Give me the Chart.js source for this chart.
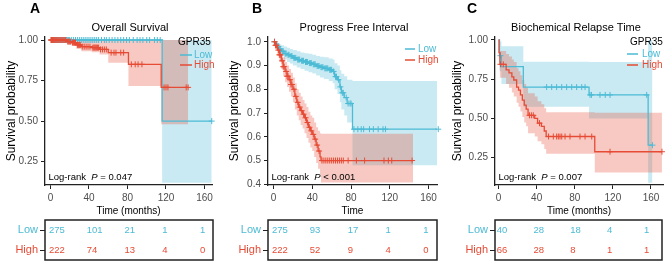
<!DOCTYPE html>
<html><head><meta charset="utf-8">
<script src="https://cdn.jsdelivr.net/npm/chart.js@4.4.0/dist/chart.umd.min.js"></script>
<style>
html,body{margin:0;padding:0;background:#fff;}
#wrap{position:relative;width:669px;height:265px;overflow:hidden;background:#fff;}
#wrap canvas{position:absolute;}
</style></head><body><div id="wrap"></div>
<script>
// ---------- shared ----------
const xTickValues = [0, 40, 80, 120, 160];
const groupNames = ['Low', 'High'];

// ---------- Panel A : Overall Survival ----------
const aLowTime  = [0, 116, 167.5];
const aLowSurv  = [1, 0.5, 0.5];
const aLowUpper = [1, 1, 1];
const aLowLower = [1, 0.12, 0.12];
const aHighTime  = [0, 17, 22, 27, 32, 43, 51, 60, 81, 115, 143];
const aHighSurv  = [1, 0.99, 0.984, 0.97, 0.959, 0.953, 0.942, 0.922, 0.85, 0.708, 0.708];
const aHighUpper = [1, 1, 1, 1, 1, 1, 1, 1, 1, 1, 1];
const aHighLower = [1, 0.975, 0.965, 0.945, 0.93, 0.925, 0.91, 0.86, 0.716, 0.48, 0.48];
const aLowCensor = [1,2,3,4,5,6,7,8,9,10,11,12,13,14,15,16,17,18,19,20,22,24,26,28,30,32,34,36,38,40,42,44,46,48,50,53,56,58,61,64,67,70,73,76,79,82,86,90,93,96,100,103,108,111,114,167.5];
const aHighCensor = [0.5,1,1.5,2,3,4,5,6,7,8,9,10,11,12,13,14,15,16,18,19,20,21,23,24,25,26,28,29,30,31,33,35,37,39,41,44,45,46,47,48,49,50,52,54,56,58,63,66,68,73,76,84,88,91,95,118,120,122,141,143];
const aRiskLow  = [275, 101, 21, 1, 1];
const aRiskHigh = [222, 74, 13, 4, 0];
const aYTicks = [0.25, 0.5, 0.75, 1.0];

// ---------- Panel B : Progress Free Interval ----------
const bLowTime  = [0, 2, 4, 6, 8, 11, 14, 17, 20, 24, 28, 32, 36, 40, 44, 48, 52, 57, 61, 63, 66, 68.5, 70, 73, 76, 81.5, 170];
const bLowSurv  = [1, 0.99, 0.98, 0.97, 0.96, 0.95, 0.945, 0.94, 0.932, 0.925, 0.92, 0.915, 0.91, 0.905, 0.898, 0.893, 0.888, 0.882, 0.875, 0.853, 0.84, 0.81, 0.785, 0.765, 0.74, 0.632, 0.632];
const bLowUpper = [1, 1, 0.995, 0.99, 0.985, 0.98, 0.975, 0.97, 0.965, 0.96, 0.955, 0.952, 0.95, 0.945, 0.94, 0.937, 0.935, 0.93, 0.925, 0.91, 0.9, 0.88, 0.865, 0.855, 0.84, 0.835, 0.835];
const bLowLower = [1, 0.98, 0.965, 0.952, 0.94, 0.925, 0.915, 0.908, 0.9, 0.892, 0.885, 0.878, 0.872, 0.866, 0.858, 0.85, 0.843, 0.835, 0.825, 0.8, 0.78, 0.745, 0.715, 0.69, 0.66, 0.48, 0.48];
const bHighTime  = [0, 2, 4, 6, 8, 10, 12, 14, 16, 18, 20, 22, 24, 26, 28, 30, 32, 34, 36, 38, 40, 42, 44, 46, 48, 49, 144];
const bHighSurv  = [1, 0.985, 0.965, 0.945, 0.92, 0.895, 0.875, 0.855, 0.84, 0.82, 0.8, 0.77, 0.745, 0.725, 0.71, 0.695, 0.68, 0.66, 0.64, 0.625, 0.61, 0.59, 0.565, 0.54, 0.515, 0.5, 0.5];
const bHighUpper = [1, 1, 0.99, 0.975, 0.955, 0.935, 0.915, 0.9, 0.885, 0.87, 0.85, 0.825, 0.8, 0.785, 0.77, 0.755, 0.74, 0.725, 0.705, 0.69, 0.68, 0.66, 0.64, 0.625, 0.615, 0.613, 0.613];
const bHighLower = [1, 0.97, 0.94, 0.915, 0.885, 0.855, 0.83, 0.81, 0.79, 0.77, 0.745, 0.715, 0.69, 0.67, 0.65, 0.635, 0.615, 0.595, 0.575, 0.555, 0.54, 0.515, 0.49, 0.465, 0.44, 0.408, 0.408];
const bLowCensor = [1,3,5,7,9,10,12,13,15,16,18,19,21,22,23,25,26,27,29,30,31,33,34,35,37,38,39,41,42,43,45,46,47,49,50,51,53,54,55,56,58,59,60,62,64,65,67,69,71,72,75,77,79,80,83,87,90.5,93,99,103,108,113,115.5,170];
const bHighCensor = [1,2,3,5,6,7,9,10,11,13,14,15,17,18,19,21,23,25,27,29,31,33,35,37,39,41,43,45,47,50,52,54,56,58,60,62,64,66,68,70,72,77,85.5,94,114,118.5,122,143];
const bRiskLow  = [275, 93, 17, 1, 1];
const bRiskHigh = [222, 52, 9, 4, 0];
const bYTicks = [0.4, 0.5, 0.6, 0.7, 0.8, 0.9, 1.0];

// ---------- Panel C : Biochemical Relapse Time ----------
const cLowTime  = [0, 1, 3, 26, 95, 157, 161.5];
const cLowSurv  = [1, 0.9, 0.83, 0.70, 0.65, 0.33, 0.33];
const cLowUpper = [1, 0.99, 0.96, 0.862, 0.86, 1, 1];
const cLowLower = [1, 0.8, 0.72, 0.575, 0.5, 0.09, 0.09];
const cHighTime  = [0, 0.5, 1.5, 8, 11, 14, 16, 19, 21, 23, 25, 27, 29, 31, 38, 41, 45, 48, 50, 101, 171.5];
const cHighSurv  = [1, 0.92, 0.845, 0.81, 0.79, 0.765, 0.745, 0.70, 0.68, 0.65, 0.617, 0.585, 0.56, 0.52, 0.5, 0.47, 0.45, 0.42, 0.385, 0.288, 0.288];
const cHighUpper = [1, 0.98, 0.93, 0.91, 0.895, 0.875, 0.86, 0.82, 0.8, 0.775, 0.745, 0.72, 0.695, 0.66, 0.64, 0.61, 0.59, 0.565, 0.54, 0.537, 0.537];
const cHighLower = [1, 0.86, 0.76, 0.72, 0.695, 0.665, 0.64, 0.6, 0.575, 0.545, 0.51, 0.475, 0.45, 0.405, 0.385, 0.355, 0.335, 0.305, 0.275, 0.155, 0.155];
const cLowCensor = [2, 50.5, 55.8, 61, 66.3, 71.5, 76.8, 82, 87.3, 90.8, 96, 97.5, 106.5, 112, 117, 155.5, 161.5];
const cHighCensor = [2, 5, 32.5, 34.5, 36.5, 43, 52.5, 57.5, 61, 62.8, 64.5, 66.3, 69.8, 75, 85.5, 90.8, 97.8, 117, 171.5];
const cRiskLow  = [40, 28, 18, 4, 1];
const cRiskHigh = [66, 28, 8, 1, 1];
const cYTicks = [0.25, 0.5, 0.75, 1.0];

// ---------- styles ----------
const FONT = "'Liberation Sans', Arial, Helvetica, sans-serif";
const COL_LOW = '#4DBBD5', COL_HIGH = '#E64B35';
const BAND_LOW = 'rgba(77,187,213,0.30)', BAND_HIGH = 'rgba(230,75,53,0.30)';
const AXIS_COL = '#222', TICK_TEXT = '#4d4d4d';

function pts(times, vals) { return times.map((t, i) => ({ x: t, y: vals[i] })); }
function survAt(times, surv, t) {
  let v = surv[0];
  for (let i = 0; i < times.length; i++) { if (times[i] <= t) v = surv[i]; }
  return v;
}
function censorPts(cens, times, surv) { return cens.map(t => ({ x: t, y: survAt(times, surv, t) })); }

const panels = [
  { left: 0, letter: 'A', letterX: 30, title: 'Overall Survival', titleX: 130, xTitle: 'Time (months)',
    yAxisW: 45, padRight: 11, xMin: -5.7, xMax: 167.8, yMin: 0.106, yMax: 1.0185, yTicks: aYTicks, dec: 2,
    pText: ' = 0.047', legendTitle: 'GPR35', legTitleY: 42, legRows: [55, 65], legLine: [180, 192], legTextX: 194, legTitleX: 178,
    tabPadRight: 10, tabMin: -4.2, tabMax: 173.7,
    low: [aLowTime, aLowSurv, aLowUpper, aLowLower, aLowCensor],
    high: [aHighTime, aHighSurv, aHighUpper, aHighLower, aHighCensor],
    risk: [aRiskLow, aRiskHigh] },
  { left: 223, letter: 'B', letterX: 29, title: 'Progress Free Interval', titleX: 131, xTitle: 'Time',
    yAxisW: 45, padRight: 9, xMin: -5.7, xMax: 168.7, yMin: 0.397, yMax: 1.02, yTicks: bYTicks, dec: 1,
    pText: ' < 0.001', legendTitle: null, legRows: [49, 60], legLine: [182, 192], legTextX: 195,
    tabPadRight: 9, tabMin: -4.2, tabMax: 174.5,
    low: [bLowTime, bLowSurv, bLowUpper, bLowLower, bLowCensor],
    high: [bHighTime, bHighSurv, bHighUpper, bHighLower, bHighCensor],
    risk: [bRiskLow, bRiskHigh] },
  { left: 446, letter: 'C', letterX: 21, title: 'Biochemical Relapse Time', titleX: 130, xTitle: 'Time (months)',
    yAxisW: 49, padRight: 6, xMin: -3.7, xMax: 172.6, yMin: 0.076, yMax: 1.019, yTicks: cYTicks, dec: 2,
    pText: ' = 0.007', legendTitle: 'GPR35', legTitleY: 42, legRows: [54, 65], legLine: [181, 192], legTextX: 196, legTitleX: 184,
    tabPadRight: 7, tabMin: -1.9, tabMax: 179.7,
    low: [cLowTime, cLowSurv, cLowUpper, cLowLower, cLowCensor],
    high: [cHighTime, cHighSurv, cHighUpper, cHighLower, cHighCensor],
    risk: [cRiskLow, cRiskHigh] }
];

const wrap = document.getElementById('wrap');
function addCanvas(left, top, w, h) {
  const c = document.createElement('canvas');
  c.width = w; c.height = h;
  c.style.left = left + 'px'; c.style.top = top + 'px';
  c.style.width = w + 'px'; c.style.height = h + 'px';
  wrap.appendChild(c);
  return c;
}

function lineDs(data, color, order) {
  return { data, borderColor: color, borderWidth: 1.3, pointRadius: 0, stepped: 'before', fill: false, order, tension: 0 };
}
function bandDs(data, color, fill, order) {
  return { data, borderWidth: 0, borderColor: 'rgba(0,0,0,0)', backgroundColor: color, pointRadius: 0, stepped: 'before', fill, order, tension: 0 };
}
function censorDs(data, color, order) {
  return { data, showLine: false, pointStyle: 'cross', pointRadius: 3, pointBorderWidth: 1, pointBorderColor: color,
           pointBackgroundColor: color, borderColor: color, order, clip: 6 };
}

panels.forEach(p => {
  const [lt, ls, lu, ll, lc] = p.low;
  const [ht, hs, hu, hl, hc] = p.high;
  const W = 223;
  const mainCanvas = addCanvas(p.left, 0, W, 217);

  const overlay = {
    id: 'overlay' + p.letter,
    afterDraw(chart) {
      const ctx = chart.ctx, a = chart.chartArea;
      ctx.save();
      ctx.fillStyle = '#000';
      ctx.font = 'bold 14px ' + FONT;
      ctx.textAlign = 'left'; ctx.textBaseline = 'alphabetic';
      ctx.fillText(p.letter, p.letterX, 13);
      ctx.font = '11px ' + FONT;
      ctx.textAlign = 'center'; ctx.textBaseline = 'middle';
      ctx.fillText(p.title, p.titleX, 28);
      // log-rank
      ctx.textAlign = 'left';
      ctx.font = '9.5px ' + FONT;
      let x = a.left + 3.5; const y = 177.5;
      const s1 = 'Log-rank  ';
      ctx.fillText(s1, x, y); x += ctx.measureText(s1).width;
      ctx.font = 'italic 9.5px ' + FONT;
      ctx.fillText('P', x, y); x += ctx.measureText('P').width;
      ctx.font = '9.5px ' + FONT;
      ctx.fillText(p.pText, x, y);
      // legend
      ctx.font = '10px ' + FONT;
      if (p.legendTitle) { ctx.fillStyle = '#000'; ctx.fillText(p.legendTitle, p.legTitleX, p.legTitleY); }
      [COL_LOW, COL_HIGH].forEach((col, i) => {
        const yy = p.legRows[i];
        ctx.strokeStyle = col; ctx.lineWidth = 1.5;
        ctx.beginPath(); ctx.moveTo(p.legLine[0], yy); ctx.lineTo(p.legLine[1], yy); ctx.stroke();
        ctx.fillStyle = col;
        ctx.fillText(groupNames[i], p.legTextX, yy);
      });
      ctx.restore();
    }
  };

  new Chart(mainCanvas, {
    type: 'line',
    data: {
      datasets: [
        censorDs(censorPts(hc, ht, hs), COL_HIGH, 0),
        lineDs(pts(ht, hs), COL_HIGH, 1),
        censorDs(censorPts(lc, lt, ls), COL_LOW, 2),
        lineDs(pts(lt, ls), COL_LOW, 3),
        bandDs(pts(ht, hu), BAND_HIGH, '+1', 10),
        bandDs(pts(ht, hl), 'rgba(0,0,0,0)', false, 11),
        bandDs(pts(lt, lu), BAND_LOW, '+1', 12),
        bandDs(pts(lt, ll), 'rgba(0,0,0,0)', false, 13)
      ]
    },
    options: {
      responsive: false, animation: false, events: [],
      layout: { padding: { top: 37, left: 0, right: p.padRight, bottom: 0 } },
      plugins: { legend: { display: false }, tooltip: { enabled: false }, title: { display: false } },
      scales: {
        x: {
          type: 'linear', min: p.xMin, max: p.xMax,
          afterBuildTicks: s => { s.ticks = xTickValues.map(v => ({ value: v })); },
          afterFit: s => { s.height = 217 - 185; },
          ticks: { font: { family: FONT, size: 10 }, color: TICK_TEXT, padding: 3, maxRotation: 0, autoSkip: false },
          grid: { display: true, drawOnChartArea: false, drawTicks: true, tickLength: 4, color: AXIS_COL, lineWidth: 1 },
          border: { display: true, color: AXIS_COL, width: 1.3 },
          title: { display: true, text: p.xTitle, font: { family: FONT, size: 10 }, color: '#000', padding: { top: 0, bottom: 0 } }
        },
        y: {
          type: 'linear', min: p.yMin, max: p.yMax,
          afterBuildTicks: s => { s.ticks = p.yTicks.map(v => ({ value: v })); },
          afterFit: s => { s.width = p.yAxisW; },
          ticks: { font: { family: FONT, size: 10 }, color: TICK_TEXT, padding: 3, callback: v => Number(v).toFixed(p.dec) },
          grid: { display: true, drawOnChartArea: false, drawTicks: true, tickLength: 4, color: AXIS_COL, lineWidth: 1 },
          border: { display: true, color: AXIS_COL, width: 1.3 },
          title: { display: true, text: 'Survival probability', font: { family: FONT, size: 12 }, color: '#000', padding: { top: 4, bottom: 0 } }
        }
      }
    },
    plugins: [overlay]
  });

  // ---- risk table ----  (box spans y 220..260 on the page)
  const tabCanvas = addCanvas(p.left, 210, W, 60);
  const tableDraw = {
    id: 'table' + p.letter,
    afterDraw(chart) {
      const ctx = chart.ctx, a = chart.chartArea;
      const xs = chart.scales.x, ys = chart.scales.y;
      ctx.save();
      ctx.strokeStyle = AXIS_COL; ctx.lineWidth = 1.5;
      ctx.strokeRect(a.left, a.top, a.right - a.left, a.bottom - a.top);
      ctx.font = '9.5px ' + FONT;
      ctx.textAlign = 'left'; ctx.textBaseline = 'middle';
      p.risk.forEach((row, gi) => {
        ctx.fillStyle = gi === 0 ? COL_LOW : COL_HIGH;
        row.forEach((n, j) => {
          ctx.fillText(String(n), xs.getPixelForValue(xTickValues[j]), ys.getPixelForValue(gi));
        });
      });
      ctx.restore();
    }
  };
  new Chart(tabCanvas, {
    type: 'line',
    data: { labels: groupNames, datasets: [] },
    options: {
      responsive: false, animation: false, events: [],
      layout: { padding: { top: 10, left: 0, right: p.tabPadRight, bottom: 10 } },
      plugins: { legend: { display: false }, tooltip: { enabled: false } },
      scales: {
        x: { type: 'linear', min: p.tabMin, max: p.tabMax, display: false },
        y: {
          type: 'category', labels: groupNames, offset: true,
          afterFit: s => { s.width = p.yAxisW; },
          ticks: { font: { family: FONT, size: 11 }, padding: 2, color: c => (c.index === 0 ? COL_LOW : COL_HIGH) },
          grid: { display: true, drawOnChartArea: false, drawTicks: true, tickLength: 5, color: AXIS_COL, lineWidth: 1, offset: false },
          border: { display: false }
        }
      }
    },
    plugins: [tableDraw]
  });
});
</script></body></html>
